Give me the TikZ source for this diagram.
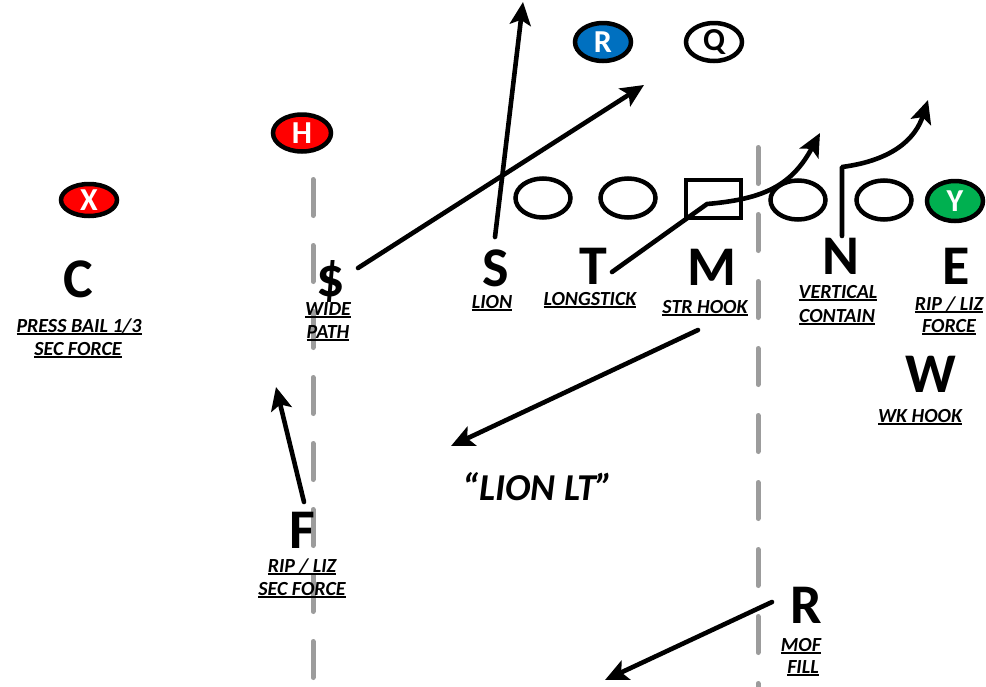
\documentclass[tikz,border=0pt]{standalone}
\usepackage{fontspec}
\setmainfont{Carlito}
\usetikzlibrary{arrows.meta,shapes.geometric}
\definecolor{fred}{HTML}{FF0000}
\definecolor{fblue}{HTML}{0070C0}
\definecolor{fgreen}{HTML}{00B050}
\definecolor{ygray}{HTML}{9C9C9C}
\newcommand\ulab[1]{\setbox0\hbox{#1}\rlap{\rule[-2.6pt]{\wd0}{1.5pt}}\box0}
\begin{document}
\begin{tikzpicture}[x=1pt,y=-1pt,
 player/.style={ellipse,draw=black,line width=4.5pt,inner sep=0pt,minimum width=56pt,minimum height=32pt,text=white,font=\fontsize{32}{32}\selectfont\bfseries},
 lineman/.style={ellipse,draw=black,line width=4.5pt,inner sep=0pt,minimum width=55pt,minimum height=39pt},
 big/.style={inner sep=0pt,font=\fontsize{56}{56}\selectfont\bfseries},
 lab/.style={inner sep=0pt,anchor=base,font=\fontsize{20}{20}\selectfont\bfseries\itshape},
 route/.style={line width=4.6pt,line cap=round,-{Stealth[length=23pt,width=21pt,inset=5pt]}},
 yard/.style={draw=ygray,line width=5pt,line cap=round,dash pattern=on 36pt off 30pt}]
\useasboundingbox (0,0) rectangle (986,686);
% yard lines
\coordinate (y1a) at (313,179.5);
\coordinate (y1b) at (313,700);
\coordinate (y2a) at (758,147.5);
\coordinate (y2b) at (758,700);
\draw[yard] (y1a) -- (y1b);
\draw[yard,dash pattern=on 36pt off 31pt] (y2a) -- (y2b);
% offense
\node[player,fill=fred] (X) at (89,200) {X};
\node[player,fill=fred,minimum width=58pt,minimum height=37pt] (H) at (302,133) {H};
\node[player,fill=fblue,minimum height=38pt] (Rb) at (603,42) {R};
\node[player,fill=white,text=black,minimum height=38pt] (Q) at (714,42) {Q};
\node[lineman] (O1) at (543,198) {};
\node[lineman] (O2) at (628,198) {};
\node[draw=black,line width=4.5pt,inner sep=0pt,minimum width=55pt,minimum height=38pt] (Cbox) at (713.5,199) {};
\node[lineman] (O3) at (798,200) {};
\node[lineman] (O4) at (884,200) {};
\node[player,fill=fgreen,minimum height=40pt] (Y) at (955,201) {Y};
% defenders
\node[big] (C) at (78,279) {C};
\node[big] (D) at (331,281) {\$};
\node[big] (S) at (496,268) {S};
\node[big] (T) at (593,266) {T};
\node[big] (M) at (712,267) {M};
\node[big] (N) at (841,256) {N};
\node[big] (E) at (956,266) {E};
\node[big] (W) at (931,374) {W};
\node[big] (F) at (302,530) {F};
\node[big] (R) at (806,605) {R};
% labels
\node[lab] (c1) at (79,332) {\ulab{PRESS BAIL 1/3}};
\node[lab] (c2) at (78,355) {\ulab{SEC FORCE}};
\node[lab] (d1) at (328,315) {\ulab{WIDE}};
\node[lab] (d2) at (328,338) {\ulab{PATH}};
\node[lab] (s1) at (492,308) {\ulab{LION}};
\node[lab] (t1) at (590,305) {\ulab{LONGSTICK}};
\node[lab] (m1) at (705,313) {\ulab{STR HOOK}};
\node[lab] (n1) at (838,298) {\ulab{VERTICAL}};
\node[lab] (n2) at (837,322) {\ulab{CONTAIN}};
\node[lab] (e1) at (949,310) {\ulab{RIP / LIZ}};
\node[lab] (e2) at (949,332) {\ulab{FORCE}};
\node[lab] (w1) at (920,422) {\ulab{WK HOOK}};
\node[lab] (f1) at (302,572) {\ulab{RIP / LIZ}};
\node[lab] (f2) at (302,595) {\ulab{SEC FORCE}};
\node[lab] (r1) at (801,651) {\ulab{MOF}};
\node[lab] (r2) at (803,673) {\ulab{FILL}};
\node[inner sep=0pt,anchor=base,font=\fontsize{38}{38}\selectfont\bfseries\itshape] (call) at (538,500) {“LION LT”};
% routes
\coordinate (sA) at (495,237);  \coordinate (sB) at (523,2);
\coordinate (dA) at (358,268);  \coordinate (dB) at (644,85);
\coordinate (tA) at (612,272);  \coordinate (tK) at (707,204); \coordinate (tB) at (820,133);
\coordinate (nA) at (842,236);  \coordinate (nK) at (842,167); \coordinate (nB) at (928,100);
\coordinate (mA) at (698,330);  \coordinate (mB) at (451,446);
\coordinate (fA) at (304,502);  \coordinate (fB) at (276,387);
\coordinate (rA) at (772,602);  \coordinate (rB) at (605,680);
\draw[route] (sA) -- (sB);
\draw[route] (dA) -- (dB);
\draw[route,line join=round] (tA) -- (tK) .. controls (765,199) and (792,185) .. (tB);
\draw[route,line join=round] (nA) -- (nK) .. controls (895,160) and (916,137) .. (nB);
\draw[route] (mA) -- (mB);
\draw[route] (fA) -- (fB);
\draw[route] (rA) -- (rB);
\end{tikzpicture}
\end{document}
